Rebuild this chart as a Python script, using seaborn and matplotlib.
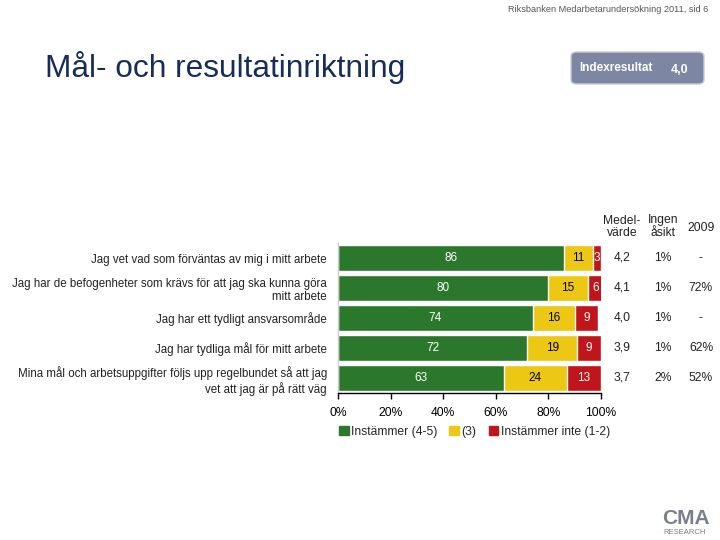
import pandas as pd
import matplotlib.pyplot as plt
import seaborn as sns
from matplotlib.patches import FancyBboxPatch, Patch

statements = [
    "Jag vet vad som förväntas av mig i mitt arbete",
    "Jag har de befogenheter som krävs för att jag ska kunna göra\nmitt arbete",
    "Jag har ett tydligt ansvarsområde",
    "Jag har tydliga mål för mitt arbete",
    "Mina mål och arbetsuppgifter följs upp regelbundet så att jag\nvet att jag är på rätt väg",
]
agree = [86, 80, 74, 72, 63]
neutral = [11, 15, 16, 19, 24]
disagree = [3, 6, 9, 9, 13]
medel = ["4,2", "4,1", "4,0", "3,9", "3,7"]
ingen_asikt = ["1%", "1%", "1%", "1%", "2%"]
year_2009 = ["-", "72%", "-", "62%", "52%"]
xtick_labels = ["0%", "20%", "40%", "60%", "80%", "100%"]
series_names = ["Instämmer (4-5)", "(3)", "Instämmer inte (1-2)"]
index_value = "4,0"

green = "#2b782d"
yellow = "#ecc814"
red = "#c0161b"

sns.set_style("white")
plt.rcParams["font.family"] = ["Liberation Sans", "DejaVu Sans"]

df = pd.DataFrame({"statement": statements, "agree": agree,
                   "neutral": neutral, "disagree": disagree})
df["cum2"] = df["agree"] + df["neutral"]
df["cum3"] = df["cum2"] + df["disagree"]

fig = plt.figure(figsize=(7.2, 5.4), dpi=100)
ax = fig.add_axes([338 / 720, 1 - 393 / 540, 263 / 720, 150 / 540])

# stacked bars: draw cumulative totals back to front
sns.barplot(data=df, y="statement", x="cum3", color=red, orient="h",
            width=0.87, ax=ax, saturation=1)
sns.barplot(data=df, y="statement", x="cum2", color=yellow, orient="h",
            width=0.87, ax=ax, saturation=1)
sns.barplot(data=df, y="statement", x="agree", color=green, orient="h",
            width=0.87, ax=ax, saturation=1)

for i, row in df.iterrows():
    ax.text(row["agree"] / 2, i, str(row["agree"]), color="white",
            ha="center", va="center", fontsize=8.5)
    ax.text(row["agree"] + row["neutral"] / 2, i, str(row["neutral"]),
            color="black", ha="center", va="center", fontsize=8.5)
    ax.text(row["cum2"] + row["disagree"] / 2, i, str(row["disagree"]),
            color="white", ha="center", va="center", fontsize=8.5)
    ax.text(1.08, i, medel[i], transform=ax.get_yaxis_transform(),
            ha="center", va="center", fontsize=8.7, color="#222222")
    ax.text(1.235, i, ingen_asikt[i], transform=ax.get_yaxis_transform(),
            ha="center", va="center", fontsize=8.7, color="#222222")
    ax.text(1.38, i, year_2009[i], transform=ax.get_yaxis_transform(),
            ha="center", va="center", fontsize=8.7, color="#222222")

ax.text(1.08, 1.03, "Medel-\nvärde", transform=ax.transAxes, ha="center",
        va="bottom", fontsize=8.7, color="#222222", linespacing=1.0)
ax.text(1.235, 1.03, "Ingen\nåsikt", transform=ax.transAxes, ha="center",
        va="bottom", fontsize=8.7, color="#222222", linespacing=1.0)
ax.text(1.38, 1.06, "2009", transform=ax.transAxes, ha="center",
        va="bottom", fontsize=8.7, color="#222222")

ax.set_xlim(0, 100)
ax.set_ylim(4.5, -0.5)
ax.set_xticks(range(0, 101, 20))
ax.set_xticklabels(xtick_labels, fontsize=8.7)
ax.set_xlabel("")
ax.set_ylabel("")
ax.tick_params(axis="y", length=0, labelsize=8.3, pad=8, labelcolor="#222222")
ax.tick_params(axis="x", length=4, width=1, direction="out", bottom=True,
               pad=6, colors="black")
for s in ["top", "right"]:
    ax.spines[s].set_visible(False)
ax.spines["left"].set_color("#cccccc")
ax.spines["left"].set_linewidth(1)
ax.spines["bottom"].set_color("black")
ax.spines["bottom"].set_linewidth(1)

handles = [Patch(color=c) for c in [green, yellow, red]]
fig.legend(handles, series_names, loc="center left",
           bbox_to_anchor=(328 / 720, 1 - 432 / 540), ncol=3, frameon=False,
           fontsize=8.7, handlelength=0.8, handleheight=0.8,
           handletextpad=0.2, columnspacing=1.0)

# page decorations
fig.text(45 / 720, 1 - 68 / 540, "Mål- och resultatinriktning",
         fontsize=22.8, color="#162d5a", va="center", ha="left")
fig.text(708 / 720, 1 - 9 / 540,
         "Riksbanken Medarbetarundersökning 2011, sid 6",
         fontsize=6.6, color="#555555", ha="right", va="center")
box = FancyBboxPatch((571 / 720, 1 - 84 / 540), 133 / 720, 32 / 540,
                     boxstyle="round,pad=0,rounding_size=0.008",
                     transform=fig.transFigure, facecolor="#7d87a3",
                     edgecolor="#c8ccd8", linewidth=1)
fig.patches.append(box)
fig.text(579 / 720, 1 - 68 / 540, "Indexresultat", color="white",
         fontsize=8.5, fontweight="bold", va="center")
fig.text(680 / 720, 1 - 70 / 540, index_value, color="white",
         fontsize=9, fontweight="bold", va="center", ha="center")
fig.text(662 / 720, 1 - 518 / 540, "CMA", color="#7a7f8c", fontsize=15,
         fontweight="bold", va="center", ha="left")
fig.text(663 / 720, 1 - 533 / 540, "RESEARCH", color="#7a7f8c",
         fontsize=5.5, va="center", ha="left")

fig.savefig("out.png", dpi=100)
